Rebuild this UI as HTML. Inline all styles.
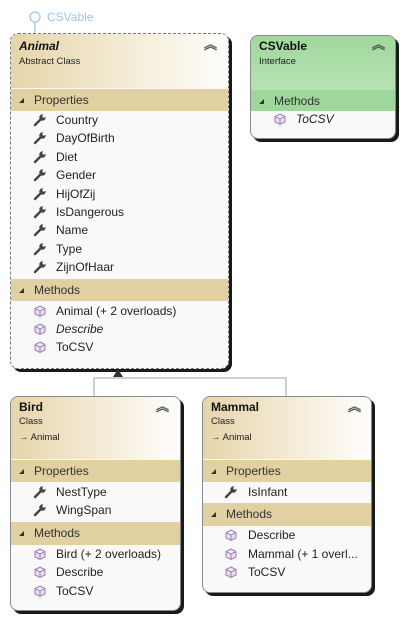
<!DOCTYPE html><html><head><style>
body{margin:0;width:403px;height:619px;background:#fff;position:relative;font-family:"Liberation Sans",sans-serif;overflow:hidden}
.b{position:absolute;border:1px solid #8a8a8a;border-radius:8px;background:#f9f9f9;box-shadow:3px 3px 0 #1a1a1a;overflow:hidden}
.h{position:absolute;left:0;right:0;top:0;background:linear-gradient(to right,#e6d5aa,#f3ead3 50%,#fdfcf8 95%)}
.g{position:absolute;left:0;right:0;top:0;background:linear-gradient(to bottom,#9fd89b,#b7e2b3)}
.band{position:absolute;left:0;right:0;background:#e0d0a2;font-size:12px;color:#333;line-height:22px}
.t{position:absolute;font-size:12px;color:#222;line-height:18px;white-space:nowrap}
.s{position:absolute;font-size:9.5px;color:#222;line-height:14px;white-space:nowrap}
.ti{position:absolute;font-size:12px;font-weight:bold;color:#111;line-height:16px}
.ch{position:absolute;font-size:13px;font-weight:bold;color:#555;line-height:12px}
.tri{display:inline-block;width:0;height:0;border-left:5px solid transparent;border-bottom:5px solid #333;margin:0 10px 1px 8px}
</style></head><body>
<svg width="403" height="619" style="position:absolute;left:0;top:0">
<circle cx="35" cy="17" r="5" fill="none" stroke="#9cc6e8" stroke-width="1.3"/>
<line x1="35" y1="22" x2="35" y2="34" stroke="#9cc6e8" stroke-width="1.3"/>
<polyline points="94,396 94,378 286,378 286,396" fill="none" stroke="#b5b5b5" stroke-width="1.3"/>
</svg>
<div class="t" style="left:47px;top:8px;color:#9cc6e8">CSVable</div>

<div class="b" style="left:10px;top:33px;width:217px;height:334px;border:1px dashed #777">
<div class="h" style="height:54px"></div>
<div class="band" style="top:55px;height:22px"><span class="tri"></span>Properties</div>
<div class="band" style="top:245px;height:22px"><span class="tri"></span>Methods</div>
</div>
<div class="ti" style="left:19px;top:38px;font-style:italic">Animal</div>
<div class="s" style="left:19px;top:55px">Abstract Class</div>
<div class="ch" style="left:204px;top:39px">︽</div>

<div class="b" style="left:250px;top:35px;width:144px;height:102px">
<div class="g" style="height:54px"></div>
<div class="band" style="top:54px;height:21px;background:#9dd79a"><span class="tri"></span>Methods</div>
</div>
<div class="ti" style="left:259px;top:38px">CSVable</div>
<div class="s" style="left:259px;top:55px">Interface</div>
<div class="ch" style="left:372px;top:39px">︽</div>

<div class="b" style="left:10px;top:396px;width:169px;height:213px">
<div class="h" style="height:62px"></div>
<div class="band" style="top:63px;height:22px"><span class="tri"></span>Properties</div>
<div class="band" style="top:125px;height:23px"><span class="tri"></span>Methods</div>
</div>
<div class="ti" style="left:19px;top:399px">Bird</div>
<div class="s" style="left:19px;top:415px">Class</div>
<div class="s" style="left:19px;top:431px">→ Animal</div>
<div class="ch" style="left:156px;top:401px">︽</div>

<div class="b" style="left:202px;top:396px;width:168px;height:195px">
<div class="h" style="height:62px"></div>
<div class="band" style="top:63px;height:22px"><span class="tri"></span>Properties</div>
<div class="band" style="top:106px;height:23px"><span class="tri"></span>Methods</div>
</div>
<div class="ti" style="left:211px;top:399px">Mammal</div>
<div class="s" style="left:211px;top:415px">Class</div>
<div class="s" style="left:211px;top:431px">→ Animal</div>
<div class="ch" style="left:348px;top:401px">︽</div>

<svg width="403" height="619" style="position:absolute;left:0;top:0">
<polygon points="118,369 113,377 123,377" fill="#333"/>
<defs>
<g id="w"><path d="M-5,5 L1,-1" stroke="#444" stroke-width="2.4" stroke-linecap="round"/><circle cx="2.5" cy="-2.5" r="3.2" fill="#444"/><circle cx="4" cy="-4" r="1.6" fill="#f9f9f9"/></g>
<g id="m"><path d="M0,-5 L5,-2.5 L5,3 L0,5.5 L-5,3 L-5,-2.5 Z M-5,-2.5 L0,0 L5,-2.5 M0,0 L0,5.5" fill="#e8def0" stroke="#9a7fb0" stroke-width="1"/></g>
</defs>
<use href="#w" x="40" y="120"/><use href="#w" x="40" y="138"/><use href="#w" x="40" y="157"/><use href="#w" x="40" y="175"/><use href="#w" x="40" y="194"/><use href="#w" x="40" y="212"/><use href="#w" x="40" y="230"/><use href="#w" x="40" y="249"/><use href="#w" x="40" y="267"/>
<use href="#m" x="40" y="311"/><use href="#m" x="40" y="329"/><use href="#m" x="40" y="347"/>
<use href="#m" x="280" y="119"/>
<use href="#w" x="40" y="492"/><use href="#w" x="40" y="510"/>
<use href="#m" x="40" y="554"/><use href="#m" x="40" y="572"/><use href="#m" x="40" y="591"/>
<use href="#w" x="231" y="492"/>
<use href="#m" x="231" y="535"/><use href="#m" x="231" y="554"/><use href="#m" x="231" y="572"/>
</svg>

<div class="t" style="left:56px;top:111px">Country</div>
<div class="t" style="left:56px;top:129px">DayOfBirth</div>
<div class="t" style="left:56px;top:148px">Diet</div>
<div class="t" style="left:56px;top:166px">Gender</div>
<div class="t" style="left:56px;top:185px">HijOfZij</div>
<div class="t" style="left:56px;top:203px">IsDangerous</div>
<div class="t" style="left:56px;top:221px">Name</div>
<div class="t" style="left:56px;top:240px">Type</div>
<div class="t" style="left:56px;top:258px">ZijnOfHaar</div>
<div class="t" style="left:56px;top:302px">Animal (+ 2 overloads)</div>
<div class="t" style="left:56px;top:320px;font-style:italic">Describe</div>
<div class="t" style="left:56px;top:338px">ToCSV</div>
<div class="t" style="left:296px;top:110px;font-style:italic">ToCSV</div>
<div class="t" style="left:56px;top:483px">NestType</div>
<div class="t" style="left:56px;top:501px">WingSpan</div>
<div class="t" style="left:56px;top:545px">Bird (+ 2 overloads)</div>
<div class="t" style="left:56px;top:563px">Describe</div>
<div class="t" style="left:56px;top:582px">ToCSV</div>
<div class="t" style="left:248px;top:483px">IsInfant</div>
<div class="t" style="left:248px;top:526px">Describe</div>
<div class="t" style="left:248px;top:545px">Mammal (+ 1 overl...</div>
<div class="t" style="left:248px;top:563px">ToCSV</div>
</body></html>
